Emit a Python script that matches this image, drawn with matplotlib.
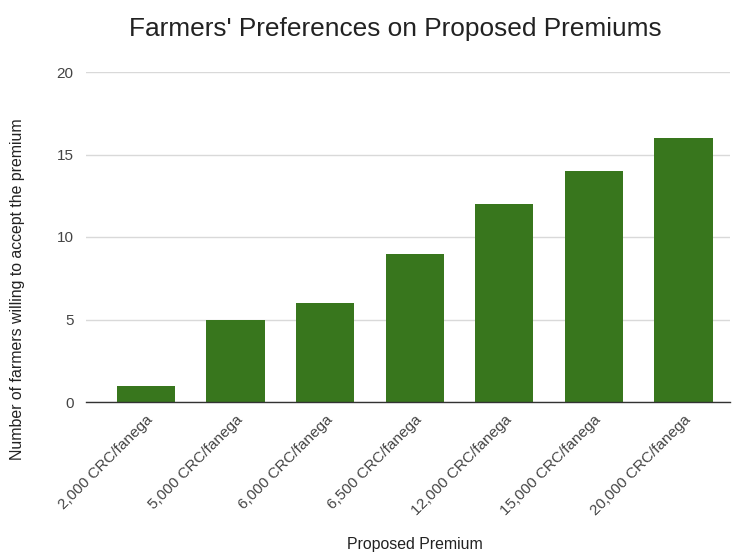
import matplotlib
matplotlib.use("Agg")
import matplotlib.pyplot as plt

plt.rcParams['font.family'] = ['Liberation Sans', 'DejaVu Sans']

categories = ["2,000 CRC/fanega", "5,000 CRC/fanega", "6,000 CRC/fanega",
              "6,500 CRC/fanega", "12,000 CRC/fanega", "15,000 CRC/fanega",
              "20,000 CRC/fanega"]
farmers = [1, 5, 6, 9, 12, 14, 16]
yticks = [0, 5, 10, 15, 20]

bar_color = "#38761d"

fig = plt.figure(figsize=(7.32, 5.52), dpi=100)
ax = fig.add_axes([86 / 732, 1 - 402 / 552, (730 - 86) / 732, (402 - 72) / 552])

x = list(range(len(categories)))
ax.bar(x, farmers, width=0.65, color=bar_color, zorder=3)

ax.set_xlim(-0.67, 6.52)
ax.set_ylim(0, 20)
ax.set_yticks(yticks)
ax.set_yticklabels([str(v) for v in yticks], fontsize=11, color="#444444")
ax.set_xticks(x)
ax.set_xticklabels(categories, rotation=45, ha="right", rotation_mode="anchor",
                   fontsize=11, color="#444444")
ax.tick_params(axis="both", length=0)
ax.tick_params(axis="y", pad=9)
ax.tick_params(axis="x", pad=8)

ax.grid(axis="y", color="#d9d9d9", linewidth=1, zorder=0)
for s in ["top", "right", "left"]:
    ax.spines[s].set_visible(False)
ax.spines["bottom"].set_color("#333333")
ax.spines["bottom"].set_linewidth(1)
ax.spines["bottom"].set_zorder(4)

fig.text(395 / 732, 1 - 29 / 552, "Farmers' Preferences on Proposed Premiums",
         ha="center", va="center", fontsize=18.9, color="#222222")
fig.text(415 / 732, 1 - 544 / 552, "Proposed Premium",
         ha="center", va="center", fontsize=11.4, color="#222222")
fig.text(18 / 732, 1 - 289 / 552, "Number of farmers willing to accept the premium",
         ha="center", va="center", rotation=90, fontsize=11.4, color="#222222")

fig.savefig("out.png", dpi=100, facecolor="white")
